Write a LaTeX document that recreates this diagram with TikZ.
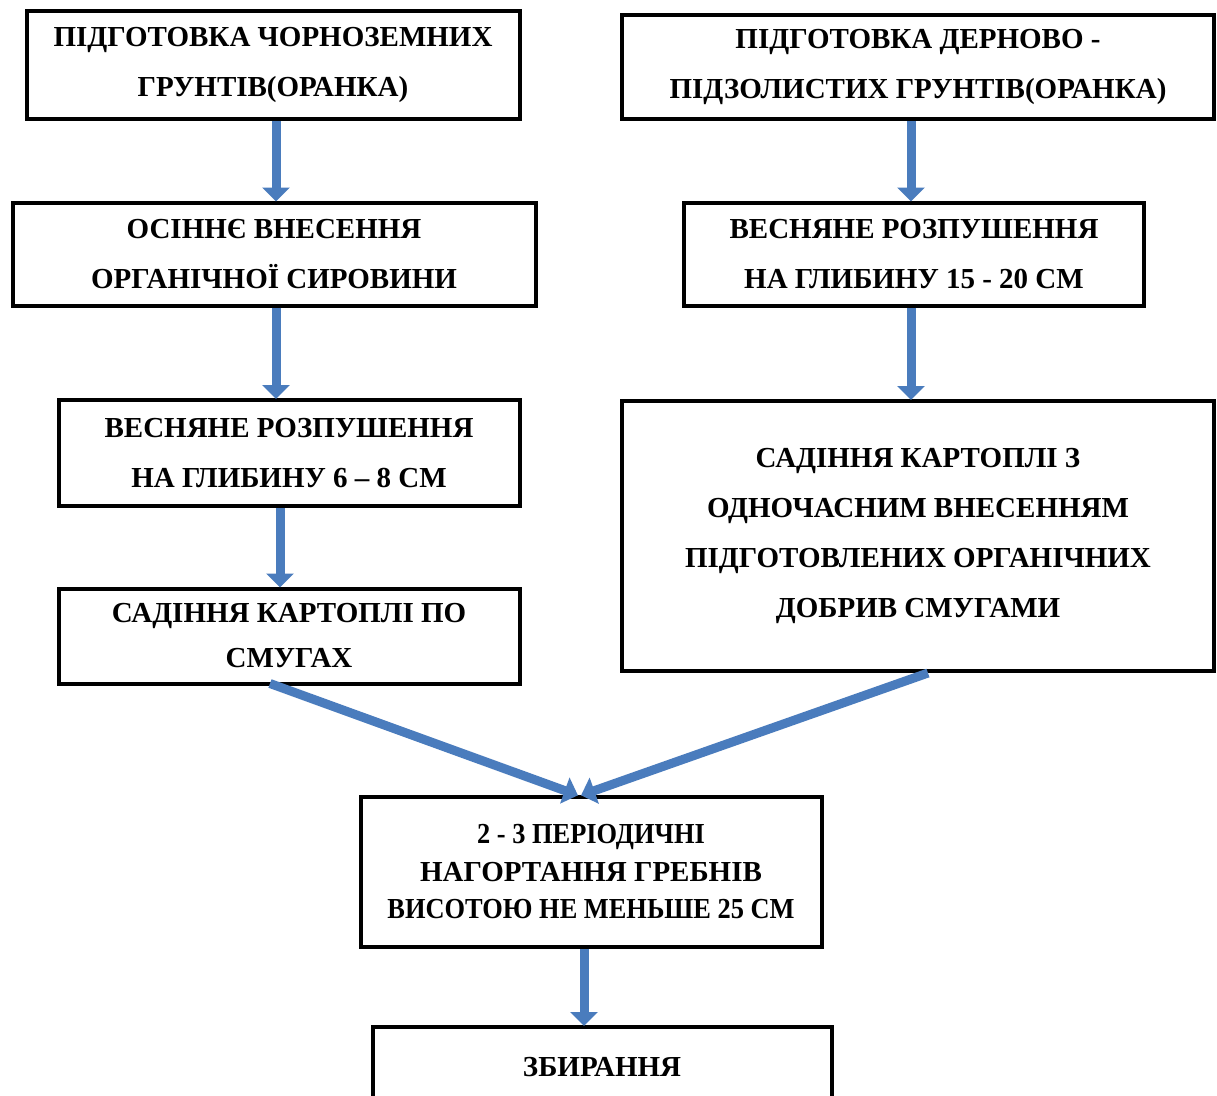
\documentclass[tikz,border=0pt]{standalone}
\usepackage{fontspec}
\setmainfont{Liberation Serif}
\usetikzlibrary{arrows.meta}
\definecolor{arrowblue}{RGB}{74,124,189}
\tikzset{
  box/.style={draw=black, line width=4pt, align=center, inner sep=0pt,
    font=\bfseries\fontsize{29}{50}\selectfont},
  flow/.style={draw=arrowblue, line width=9pt,
    -{Triangle[width=27pt,length=14pt]}, shorten >=-1pt}
}
\newcommand{\narrowline}[1]{{\addfontfeature{FakeStretch=0.91}#1}}
\begin{document}
\begin{tikzpicture}[x=1pt,y=-1pt]
\clip (0,0) rectangle (1217,1095);
\fill[white] (0,0) rectangle (1217,1095);
\node[box, minimum width=493pt, minimum height=108pt] (b1) at (273,65)
  {ПІДГОТОВКА ЧОРНОЗЕМНИХ\\ГРУНТІВ(ОРАНКА)};
\node[box, minimum width=592pt, minimum height=104pt] (b2) at (918,67)
  {ПІДГОТОВКА ДЕРНОВО -\\ПІДЗОЛИСТИХ ГРУНТІВ(ОРАНКА)};
\node[box, minimum width=523pt, minimum height=103pt] (b3) at (274,254)
  {ОСІННЄ ВНЕСЕННЯ\\ОРГАНІЧНОЇ СИРОВИНИ};
\node[box, minimum width=460pt, minimum height=103pt] (b4) at (914,254)
  {ВЕСНЯНЕ РОЗПУШЕННЯ\\НА ГЛИБИНУ 15 - 20 СМ};
\node[box, minimum width=461pt, minimum height=106pt] (b5) at (289,453)
  {ВЕСНЯНЕ РОЗПУШЕННЯ\\НА ГЛИБИНУ 6 – 8 СМ};
\node[box, minimum width=592pt, minimum height=270pt] (b6) at (918,536)
  {САДІННЯ КАРТОПЛІ З\\ОДНОЧАСНИМ ВНЕСЕННЯМ\\ПІДГОТОВЛЕНИХ ОРГАНІЧНИХ\\ДОБРИВ СМУГАМИ};
\node[box, minimum width=461pt, minimum height=95pt,
  font=\bfseries\fontsize{29}{45}\selectfont] (b7) at (289,636)
  {САДІННЯ КАРТОПЛІ ПО\\СМУГАХ};
\node[box, minimum width=461pt, minimum height=150pt,
  font=\bfseries\fontsize{29}{37.5}\selectfont] (b8) at (591,872)
  {\narrowline{2 - 3 ПЕРІОДИЧНІ}\\НАГОРТАННЯ ГРЕБНІВ\\\narrowline{ВИСОТОЮ НЕ МЕНЬШЕ 25 СМ}};
\node[box, minimum width=459pt, minimum height=80pt] (b9) at (602,1067)
  {ЗБИРАННЯ};
\draw[flow] ([xshift=3pt]b1.south) -- ([xshift=2pt]b3.north);
\draw[flow] ([xshift=-7pt]b2.south) -- ([xshift=-3pt]b4.north);
\draw[flow] ([xshift=2pt]b3.south) -- ([xshift=-13pt]b5.north);
\draw[flow] ([xshift=-3pt]b4.south) -- ([xshift=-7pt]b6.north);
\draw[flow] ([xshift=-9pt]b5.south) -- ([xshift=-9pt]b7.north);
\draw[flow] ([xshift=-19pt,yshift=2pt]b7.south) -- ([xshift=-14pt]b8.north);
\draw[flow] ([xshift=10pt]b6.south) -- ([xshift=-9pt]b8.north);
\draw[flow] ([xshift=-7pt]b8.south) -- ([xshift=-18pt]b9.north);
\end{tikzpicture}
\end{document}
